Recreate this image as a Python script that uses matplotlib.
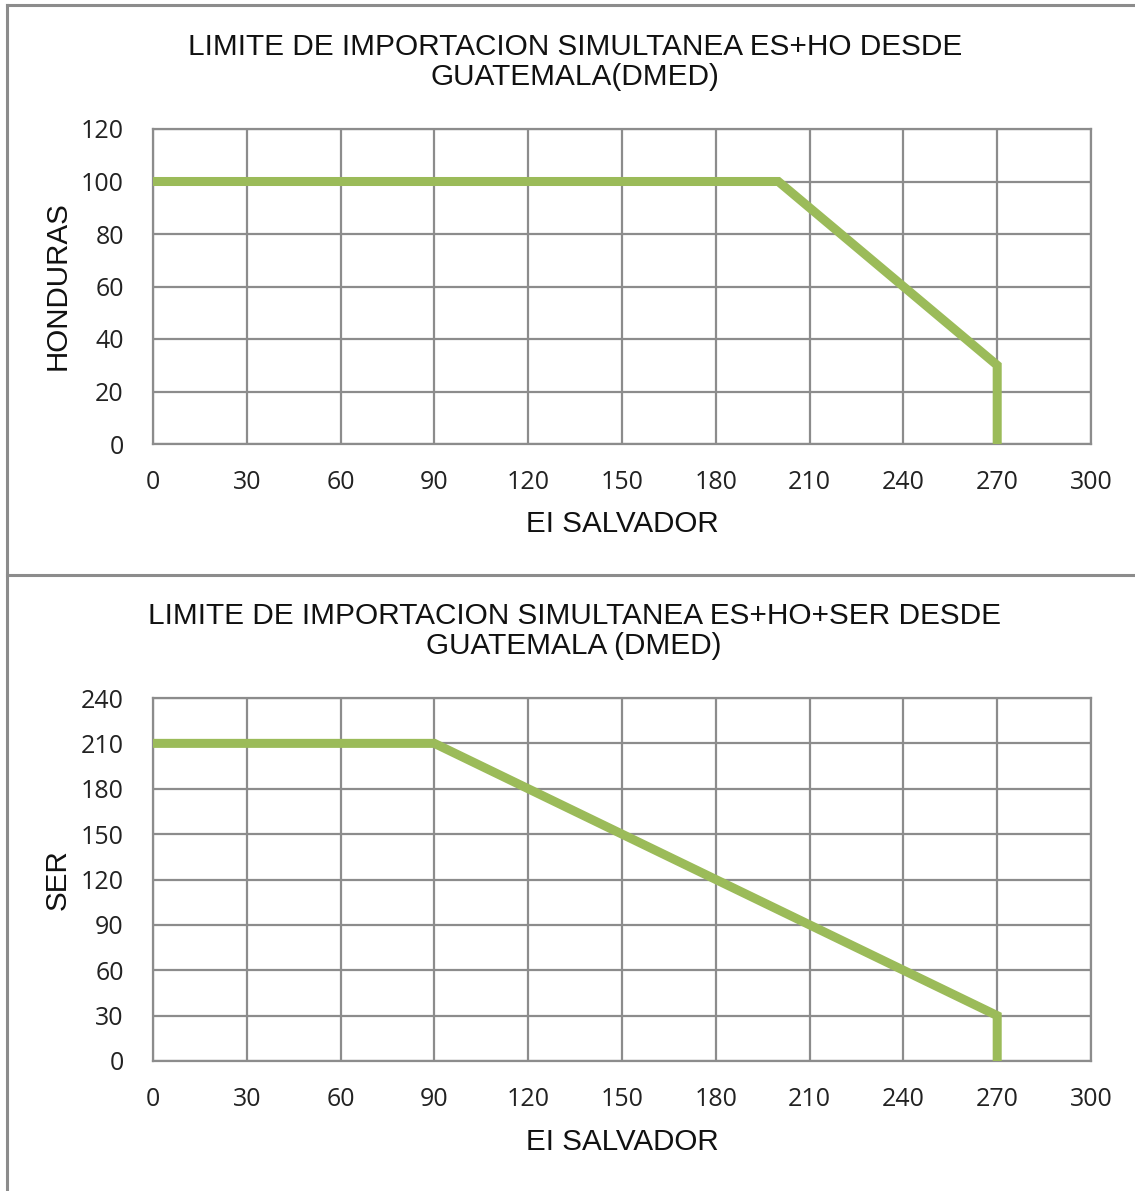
import matplotlib
matplotlib.use("Agg")
import matplotlib.pyplot as plt
from matplotlib.lines import Line2D

# datos de los dos limites
es_top = [0, 200, 270, 270]
ho_top = [100, 100, 30, 0]
es_bot = [0, 90, 270, 270]
ser_bot = [210, 210, 30, 0]

x_ticks = list(range(0, 301, 30))
y_ticks_top = list(range(0, 121, 20))
y_ticks_bot = list(range(0, 241, 30))

W, H = 1135, 1191
GREEN = "#9bbb59"
GRAY = "#8c8c8c"
TICK_FONT = "Open Sans"
TEXT_FONT = "Liberation Sans"

fig = plt.figure(figsize=(W / 100, H / 100), dpi=100)


def px_axes(left, top, right, bottom):
    return fig.add_axes([left / W, 1 - bottom / H, (right - left) / W, (bottom - top) / H])


def style(ax, yticks):
    ax.set_xlim(0, 300)
    ax.set_ylim(yticks[0], yticks[-1])
    ax.set_xticks(x_ticks)
    ax.set_yticks(yticks)
    ax.grid(True, color=GRAY, linewidth=1.6)
    ax.set_axisbelow(True)
    for s in ax.spines.values():
        s.set_color(GRAY)
        s.set_linewidth(1.6)
    ax.tick_params(length=0, labelsize=18, colors="#222222")
    ax.tick_params(axis="y", pad=21)
    ax.tick_params(axis="x", pad=19)
    for lab in ax.get_xticklabels() + ax.get_yticklabels():
        lab.set_fontfamily(TICK_FONT)


ax1 = px_axes(153, 129, 1091, 444)
style(ax1, y_ticks_top)
ax1.plot(es_top, ho_top, color=GREEN, linewidth=6.5, solid_capstyle="butt",
         solid_joinstyle="miter", clip_on=False, zorder=3)

ax2 = px_axes(153, 698, 1091, 1061)
style(ax2, y_ticks_bot)
ax2.plot(es_bot, ser_bot, color=GREEN, linewidth=6.5, solid_capstyle="butt",
         solid_joinstyle="miter", clip_on=False, zorder=3)

# titulos y etiquetas
def ftext(x, y, s, **kw):
    fig.text(x / W, 1 - y / H, s, family=TEXT_FONT, color="#111111",
             ha="center", va="center", **kw)

ftext(575, 62, "LIMITE DE IMPORTACION SIMULTANEA ES+HO DESDE\nGUATEMALA(DMED)",
      fontsize=21.4, linespacing=1.12)
ftext(622, 524, "EI SALVADOR", fontsize=21.3)
ftext(58, 286, "HONDURAS", fontsize=21.3, rotation=90)

ftext(574, 631, "LIMITE DE IMPORTACION SIMULTANEA ES+HO+SER DESDE\nGUATEMALA (DMED)",
      fontsize=21.4, linespacing=1.12)
ftext(622, 1142, "EI SALVADOR", fontsize=21.3)
ftext(58, 880, "SER", fontsize=21.3, rotation=90)

# bordes de los recuadros
for xs, ys in [([7, 7], [5, H]), ([7, W], [5, 5]), ([7, W], [575, 575])]:
    fig.add_artist(Line2D([x / W for x in xs], [1 - y / H for y in ys],
                          color=GRAY, linewidth=2.2))

fig.savefig("out.png", dpi=100)
